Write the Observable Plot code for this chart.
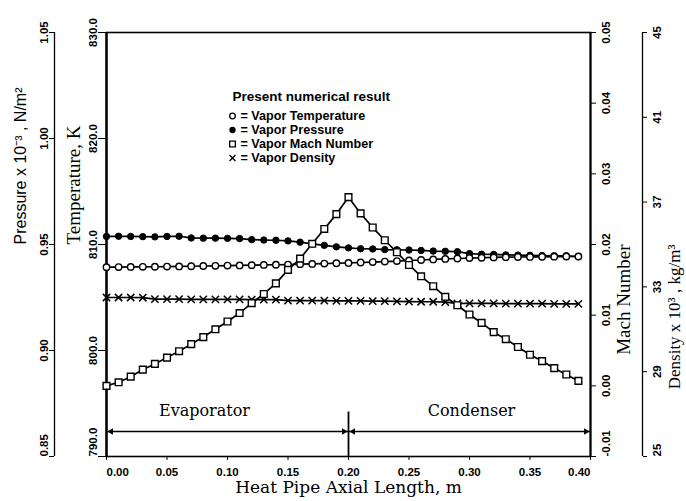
<!DOCTYPE html>
<html><head><meta charset="utf-8">
<script src="https://cdn.jsdelivr.net/npm/d3@7"></script>
<script src="https://cdn.jsdelivr.net/npm/@observablehq/plot@0.6"></script>
<style>
html,body{margin:0;padding:0;background:#fff;}
</style>
</head><body><div id="chart"></div>
<script>
// ---- data ----
const axialLength = [0.00,0.01,0.02,0.03,0.04,0.05,0.06,0.07,0.08,0.09,0.10,0.11,0.12,0.13,0.14,0.15,0.16,0.17,0.18,0.19,0.20,0.21,0.22,0.23,0.24,0.25,0.26,0.27,0.28,0.29,0.30,0.31,0.32,0.33,0.34,0.35,0.36,0.37,0.38,0.39];
const vaporTemperature = [807.86,807.87,807.88,807.89,807.90,807.92,807.93,807.95,807.97,807.99,808.01,808.03,808.05,808.07,808.09,808.11,808.14,808.17,808.20,808.23,808.26,808.30,808.34,808.39,808.44,808.49,808.54,808.59,808.64,808.68,808.72,808.75,808.78,808.80,808.82,808.83,808.84,808.85,808.86,808.87];
const vaporPressure = [0.9538,0.9539,0.9538,0.9537,0.9536,0.9538,0.9539,0.9531,0.9530,0.9530,0.9529,0.9528,0.9523,0.9521,0.9520,0.9517,0.9511,0.9503,0.9496,0.9489,0.9484,0.9480,0.9479,0.9476,0.9475,0.9474,0.9472,0.9469,0.9468,0.9466,0.9457,0.9454,0.9453,0.9451,0.9450,0.9449,0.9448,0.9447,0.9447,0.9443];
const vaporMach = [0.0000,0.0005,0.0013,0.0023,0.0031,0.0040,0.0049,0.0059,0.0069,0.0080,0.0091,0.0103,0.0117,0.0130,0.0145,0.0164,0.0180,0.0201,0.0222,0.0243,0.0267,0.0244,0.0224,0.0206,0.0189,0.0171,0.0155,0.0141,0.0126,0.0114,0.0101,0.0089,0.0076,0.0066,0.0055,0.0044,0.0035,0.0025,0.0016,0.0007];
const vaporDensity = [32.50,32.50,32.50,32.49,32.42,32.42,32.42,32.41,32.41,32.41,32.41,32.41,32.40,32.40,32.40,32.35,32.35,32.35,32.35,32.34,32.34,32.34,32.33,32.33,32.32,32.31,32.30,32.30,32.28,32.22,32.22,32.22,32.22,32.21,32.21,32.21,32.21,32.20,32.20,32.20];

const xTicks = [0.00,0.05,0.10,0.15,0.20,0.25,0.30,0.35,0.40];
const temperatureTicks = [790,800,810,820,830];
const pressureTicks = [0.85,0.90,0.95,1.00,1.05];
const machTicks = [-0.01,0.00,0.01,0.02,0.03,0.04,0.05];
const densityTicks = [25,29,33,37,41,45];

const regionNames = ["Evaporator","Condenser"];
const regionBounds = [0.00,0.20,0.40];
const legendTitle = "Present numerical result";
const legendLabels = ["= Vapor Temperature","= Vapor Pressure","= Vapor Mach Number","= Vapor Density"];

// ---- secondary axes mapped onto the temperature scale ----
const tempDomain = [temperatureTicks[0], temperatureTicks[temperatureTicks.length-1]];
const pToT = d3.scaleLinear([pressureTicks[0], pressureTicks[pressureTicks.length-1]], tempDomain);
const mToT = d3.scaleLinear([machTicks[0], machTicks[machTicks.length-1]], tempDomain);
const dToT = d3.scaleLinear([densityTicks[0], densityTicks[densityTicks.length-1]], tempDomain);
const clean = v => Math.abs(v) < 1e-9 ? 0 : v;

const rows = axialLength.map((x, i) => ({
  x,
  temperature: vaporTemperature[i],
  pressure: pToT(vaporPressure[i]),
  mach: mToT(vaporMach[i]),
  density: dToT(vaporDensity[i])
}));
const regions = regionNames.map((name, i) => ({name, x1: regionBounds[i], x2: regionBounds[i+1]}));

const sans = "'Liberation Sans', Arial, sans-serif";
const serif = "'Liberation Serif', 'Times New Roman', serif";
const slab = "'DejaVu Serif', serif";
const base = () => tempDomain[0];
const arrowLift = -25;
const dividerHeight = 4.2;

// vertical axis helper: bottom label sits above its tick, others centred
function vAxis(values, fmt, opts) {
  const lineAnchor = opts.anchor === "left" ? "bottom" : "top";
  const common = {tickRotate: -90, lineAnchor, label: null, fontSize: 11.5, tickFormat: fmt, ...opts};
  return [
    Plot.axisY(values.slice(1), {...common, textAnchor: "middle"}),
    Plot.axisY(values.slice(0, 1), {...common, textAnchor: "start"})
  ];
}

const legendSymbols = [
  {symbol: "circle", fill: "white", stroke: "black", r: 2.8},
  {symbol: "circle", fill: "black", stroke: "black", r: 2.5},
  {symbol: "square", fill: "white", stroke: "black", r: 3.2},
  {symbol: "times", fill: "none", stroke: "black", r: 2.8}
];
const legendMarks = [];
legendMarks.push(Plot.text([legendTitle], {frameAnchor: "top-left", dx: 126, dy: 64, textAnchor: "start", lineAnchor: "middle", fontFamily: sans, fontSize: 13.5, fontWeight: "bold"}));
legendLabels.forEach((label, i) => {
  legendMarks.push(Plot.dot([0], {frameAnchor: "top-left", dx: 126, dy: 83.5 + i*14, ...legendSymbols[i], strokeWidth: 1.3}));
  legendMarks.push(Plot.text([label], {frameAnchor: "top-left", dx: 134, dy: 83.5 + i*14, textAnchor: "start", lineAnchor: "middle", fontFamily: sans, fontSize: 12.6, fontWeight: "bold"}));
});

const xFmt = d => d.toFixed(2);
const xCommon = {tickSize: 4, tickPadding: 7, tickFormat: xFmt, label: null, fontSize: 11.5};

const chart = Plot.plot({
  width: 686,
  height: 501,
  marginTop: 32,
  marginBottom: 45,
  marginLeft: 106,
  marginRight: 96,
  style: {fontFamily: sans, fontSize: "11px", fontWeight: "bold", color: "#000", background: "#fff"},
  x: {domain: [0, 0.4]},
  y: {domain: tempDomain},
  marks: [
    Plot.frame({strokeWidth: 1.6}),
    Plot.ruleX([0], {strokeWidth: 2.4}),
    Plot.ruleX([0.4], {strokeWidth: 2}),
    // x axis
    Plot.axisX(xTicks.slice(1, -1), {...xCommon, textAnchor: "middle"}),
    Plot.axisX(xTicks.slice(0, 1), {...xCommon, textAnchor: "start"}),
    Plot.axisX(xTicks.slice(-1), {...xCommon, textAnchor: "end"}),
    Plot.text(["Heat Pipe Axial Length, m"], {frameAnchor: "bottom", dy: 36, fontFamily: slab, fontSize: 17, fontWeight: "normal"}),
    // temperature axis (left)
    ...vAxis(temperatureTicks, d => d.toFixed(1), {anchor: "left", tickSize: 8, tickPadding: 2}),
    Plot.text(["Temperature, K"], {frameAnchor: "left", dx: -33, rotate: -90, fontFamily: serif, fontSize: 19, fontWeight: "normal"}),
    // pressure axis (far left)
    Plot.ruleX([0], {dx: -52, strokeWidth: 1.3}),
    ...vAxis(pressureTicks.map(pToT), d => pToT.invert(d).toFixed(2), {anchor: "left", dx: -52, tickSize: 5, tickPadding: 2}),
    Plot.text(["Pressure x 10\u207B\u00B3 , N/m\u00B2"], {frameAnchor: "left", dx: -86, rotate: -90, fontFamily: sans, fontSize: 16, fontWeight: "normal"}),
    // mach axis (right)
    ...vAxis(machTicks.map(mToT), d => clean(mToT.invert(d)).toFixed(2), {anchor: "right", tickSize: 5, tickPadding: 6}),
    Plot.text(["Mach Number"], {frameAnchor: "right", dx: 33, rotate: -90, fontFamily: serif, fontSize: 19, fontWeight: "normal"}),
    // density axis (far right)
    Plot.ruleX([0.4], {dx: 52, strokeWidth: 1.3}),
    ...vAxis(densityTicks.map(dToT), d => String(Math.round(dToT.invert(d))), {anchor: "right", dx: 52, tickSize: 4, tickPadding: 6}),
    Plot.text(["Density x 10\u00B3 , kg/m\u00B3"], {frameAnchor: "right", dx: 84, rotate: -90, fontFamily: serif, fontSize: 17, fontWeight: "normal"}),
    // region annotations
    Plot.ruleY(regions, {x1: "x1", x2: "x2", y: base, dy: arrowLift, strokeWidth: 1.4}),
    Plot.dot(regions, {x: "x1", y: base, dy: arrowLift, dx: 4.6, symbol: "triangle2", rotate: -90, r: 3, fill: "black", stroke: "none"}),
    Plot.dot(regions, {x: "x2", y: base, dy: arrowLift, dx: -4.6, symbol: "triangle2", rotate: 90, r: 3, fill: "black", stroke: "none"}),
    Plot.ruleX(regionBounds.slice(1, -1), {y1: base, y2: () => tempDomain[0] + dividerHeight, strokeWidth: 1.8}),
    Plot.text(regions.slice(0, 1), {x: d => (d.x1 + d.x2) / 2, y: base, dy: -46, dx: -23, text: "name", fontFamily: slab, fontSize: 16, fontWeight: "normal"}),
    Plot.text(regions.slice(1, 2), {x: d => (d.x1 + d.x2) / 2, y: base, dy: -46, dx: 2, text: "name", fontFamily: slab, fontSize: 16, fontWeight: "normal"}),
    // series lines
    Plot.line(rows, {x: "x", y: "pressure", strokeWidth: 1.7}),
    Plot.line(rows, {x: "x", y: "temperature", strokeWidth: 1.7}),
    Plot.line(rows, {x: "x", y: "density", strokeWidth: 1.7}),
    Plot.line(rows, {x: "x", y: "mach", strokeWidth: 1.7}),
    // series markers
    Plot.dot(rows, {x: "x", y: "pressure", r: 3.2, fill: "black", stroke: "black", strokeWidth: 1}),
    Plot.dot(rows, {x: "x", y: "temperature", r: 3.2, fill: "white", stroke: "black", strokeWidth: 1.4}),
    Plot.dot(rows, {x: "x", y: "density", symbol: "times", r: 3.4, stroke: "black", strokeWidth: 1.5}),
    Plot.dot(rows, {x: "x", y: "mach", symbol: "square", r: 3.8, fill: "white", stroke: "black", strokeWidth: 1.4}),
    ...legendMarks
  ]
});
document.getElementById("chart").appendChild(chart);
</script>
</body></html>
